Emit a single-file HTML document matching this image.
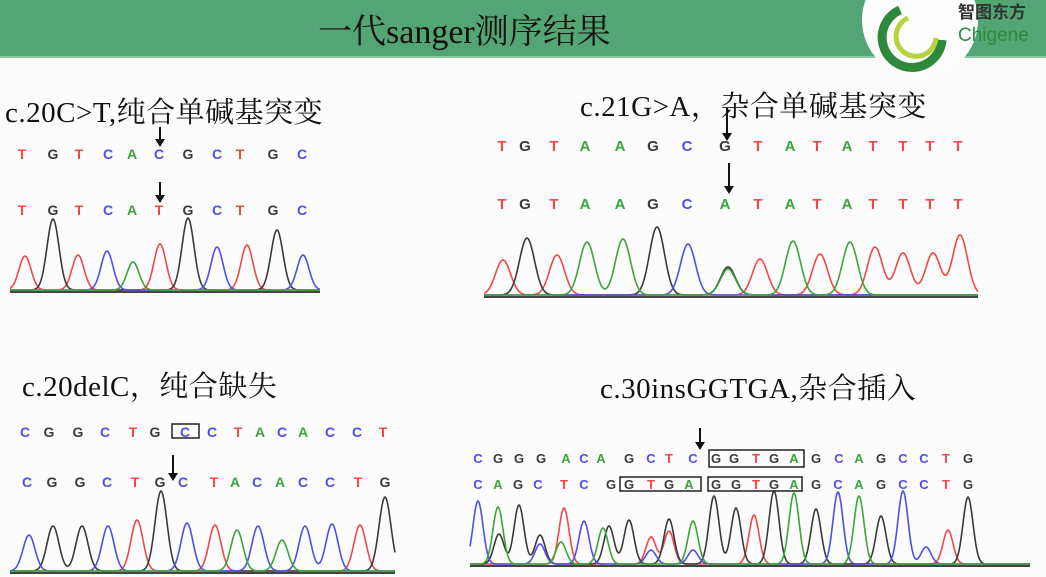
<!DOCTYPE html>
<html><head><meta charset="utf-8">
<style>
html,body{margin:0;padding:0;background:#fcfcfc;}
body{width:1046px;height:577px;overflow:hidden;position:relative;font-family:"Liberation Serif","Noto Serif CJK SC",serif;}
.hdr{position:absolute;left:0;top:0;width:1046px;height:56px;background:#53a574;border-bottom:2px solid #8cc9a0;}
.title{position:absolute;left:318px;top:4px;font-size:34px;color:#111;white-space:nowrap;font-family:"Liberation Serif","Noto Serif CJK SC",serif;}
.lbl{position:absolute;font-size:29px;color:#111;white-space:nowrap;letter-spacing:0.5px;}
</style></head><body>
<div class="hdr"></div>
<div class="title">一代sanger测序结果</div>
<svg style="position:absolute;left:860px;top:0" width="186" height="80">
 <ellipse cx="60" cy="20" rx="58" ry="58" fill="#fdfdfd"/>
 <path d="M40 10 A30 30 0 1 0 82 40" fill="none" stroke="#2e8a3a" stroke-width="9"/>
 <path d="M48 18 A20 20 0 1 0 76 38" fill="none" stroke="#b5d33a" stroke-width="5"/>
 <text x="98" y="18" font-size="17" fill="#333" font-family="Liberation Sans,Noto Sans CJK SC,sans-serif" font-weight="bold">智图东方</text>
 <text x="98" y="41" font-size="19" fill="#2e8a3a" font-family="Liberation Sans,sans-serif">Chigene</text>
</svg>
<div class="lbl" style="left:5px;top:90px">c.20C&gt;T,纯合单碱基突变</div>
<div class="lbl" style="left:580px;top:84px">c.21G&gt;A，杂合单碱基突变</div>
<div class="lbl" style="left:22px;top:364px">c.20delC，纯合缺失</div>
<div class="lbl" style="left:600px;top:366px">c.30insGGTGA,杂合插入</div>
<svg id="chart" style="position:absolute;left:0;top:0" width="1046" height="577"></svg>
<script>
// Panel 1: c.20C>T
const p1Ref=["T","G","T","C","A","C","G","C","T","G","C"];
const p1RefPos=[12,43,69,98,122,149,178,207,230,263,292];
const p1Alt=["T","G","T","C","A","T","G","C","T","G","C"];
const p1AltPos=[12,43,69,98,122,149,178,207,230,263,292];
const p1PeakPos=[15,43,68,97,123,150,178,207,237,267,293];
const p1PeakBase=["T","G","T","C","A","T","G","C","T","G","C"];
const p1PeakH=[34,71,35,39,28,46,72,43,45,60,35];
// Panel 2: c.21G>A
const p2Ref=["T","G","T","A","A","G","C","G","T","A","T","A","T","T","T","T"];
const p2Alt=["T","G","T","A","A","G","C","A","T","A","T","A","T","T","T","T"];
const p2LetPos=[18,41,70,101,136,169,203,241,274,306,333,363,389,419,446,474];
const p2PeakPos=[19,43,73,103,139,173,204,244,244,276,309,336,366,391,419,449,476];
const p2PeakBase=["T","G","T","A","A","G","C","G","A","T","A","T","A","T","T","T","T"];
const p2PeakH=[35,57,40,53,56,68,51,28,26,36,54,41,53,48,42,42,60];
// Panel 3: c.20delC
const p3Ref=["C","G","G","C","T","G","C","C","T","A","C","A","C","C","T"];
const p3RefPos=[15,39,68,95,123,145,175,202,228,250,272,293,320,347,373];
const p3Alt=["C","G","G","C","T","G","C","T","A","C","A","C","C","T","G"];
const p3AltPos=[17,42,70,97,125,150,173,204,225,247,270,293,320,348,375];
const p3PeakPos=[19,43,72,98,127,151,177,205,227,248,272,295,322,350,375];
const p3PeakBase=["C","G","G","C","T","G","C","T","A","C","A","C","C","T","G"];
const p3PeakH=[36,45,45,45,51,80,48,46,41,45,31,45,47,46,74];
// Panel 4: c.30insGGTGA
const p4Ref=["C","G","G","G","A","C","A","G","C","T","C","G","G","T","G","A","G","C","A","G","C","C","T","G"];
const p4RefPos=[8,28,49,71,96,114,131,159,181,199,223,246,264,286,304,324,346,369,389,411,433,454,476,498];
const p4Alt=["C","A","G","C","T","C","G","G","T","G","A","G","G","T","G","A","G","C","A","G","C","C","T","G"];
const p4AltPos=[8,28,48,68,94,114,141,159,181,199,219,246,266,286,304,324,346,368,389,411,433,454,476,498];
const p4PeakPos=[8,29,28,49,70,70,91,94,114,133,139,159,181,181,199,199,223,223,244,266,284,304,324,346,368,389,411,433,456,478,498];
const p4PeakBase=["C","G","A","G","G","C","A","T","C","A","G","G","T","C","G","T","A","C","G","G","T","G","A","G","C","A","G","C","C","T","G"];
const p4PeakH=[63,30,57,59,29,20,22,56,43,36,38,44,27,14,45,33,43,14,68,56,49,73,71,55,72,68,48,73,17,34,67];

const COL={A:"#3aa63a",C:"#4f4fe8",G:"#3a3a3a",T:"#f04848"};
const svg=document.getElementById('chart');
const NS="http://www.w3.org/2000/svg";
function mk(tag,attrs){const e=document.createElementNS(NS,tag);for(const k in attrs)e.setAttribute(k,attrs[k]);svg.appendChild(e);return e;}
function xs(p){return v=>p.x0+v;}
function ys(p){return h=>p.base-h;}
function letters(p,arr,pos,y,name){
  const x=xs(p);
  arr.forEach((b,i)=>{
    const t=mk('text',{x:x(pos[i]),y:y,'text-anchor':'middle','font-size':p.fs,'font-weight':'bold','font-family':'Liberation Sans,sans-serif',fill:COL[b]});
    
    
    t.textContent=b;
  });
}
function traces(p,pos,bases,hs,name){
  const x=xs(p),y=ys(p);
  ["T","G","C","A"].forEach(c=>{
    let d="";
    for(let s=0;s<=p.w;s+=1){
      let v=0;
      pos.forEach((q,i)=>{if(bases[i]===c){v+=hs[i]*Math.exp(-((s-q)*(s-q))/(2*p.sig*p.sig));}});
      d+=(s?"L":"M")+x(s).toFixed(1)+" "+(y(v)-1).toFixed(1);
    }
    const e=mk('path',{d:d,fill:"none",stroke:COL[c],"stroke-width":1.6});
    
    
  });
  const bl=mk('line',{x1:p.x0,x2:p.x0+p.w,y1:p.base+1,y2:p.base+1,stroke:"#444","stroke-width":2});
  
  
}
function arrow(x,y1,y2,name){
  const e=mk('path',{d:`M${x} ${y1}V${y2-6}`,stroke:"#111","stroke-width":2});
  
  
  mk('path',{d:`M${x-5} ${y2-8}L${x} ${y2}L${x+5} ${y2-8}Z`,fill:"#111"});
}
function box(x,y,w,h,name){
  const e=mk('rect',{x:x,y:y,width:w,height:h,fill:"none",stroke:"#222","stroke-width":1.5});
  
  
}
const P1={x0:10,w:310,base:291,sig:6,fs:14};
letters(P1,p1Ref,p1RefPos,159,'p1-ref');letters(P1,p1Alt,p1AltPos,215,'p1-alt');
traces(P1,p1PeakPos,p1PeakBase,p1PeakH,'p1');
arrow(160,127,147,'p1-arrow-ref');arrow(160,182,203,'p1-arrow-alt');
const P2={x0:484,w:494,base:296,sig:7.5,fs:15};
letters(P2,p2Ref,p2LetPos,151,'p2-ref');letters(P2,p2Alt,p2LetPos,209,'p2-alt');
traces(P2,p2PeakPos,p2PeakBase,p2PeakH,'p2');
arrow(727,108,141,'p2-arrow-ref');arrow(729,163,194,'p2-arrow-alt');
const P3={x0:10,w:385,base:572,sig:6,fs:14};
letters(P3,p3Ref,p3RefPos,437,'p3-ref');letters(P3,p3Alt,p3AltPos,487,'p3-alt');
traces(P3,p3PeakPos,p3PeakBase,p3PeakH,'p3');
box(172,424,27,14,'p3-deleted-box');arrow(173,455,481,'p3-arrow');
const P4={x0:470,w:560,base:565,sig:5,fs:13};
letters(P4,p4Ref,p4RefPos,463,'p4-ref');letters(P4,p4Alt,p4AltPos,489,'p4-alt');
traces(P4,p4PeakPos,p4PeakBase,p4PeakH,'p4');
box(709,450,95,17,'p4-insert-box-ref');box(620,477,81,14,'p4-insert-box-alt1');box(708,477,94,14,'p4-insert-box-alt2');
arrow(700,428,450,'p4-arrow');
</script>
</body></html>
